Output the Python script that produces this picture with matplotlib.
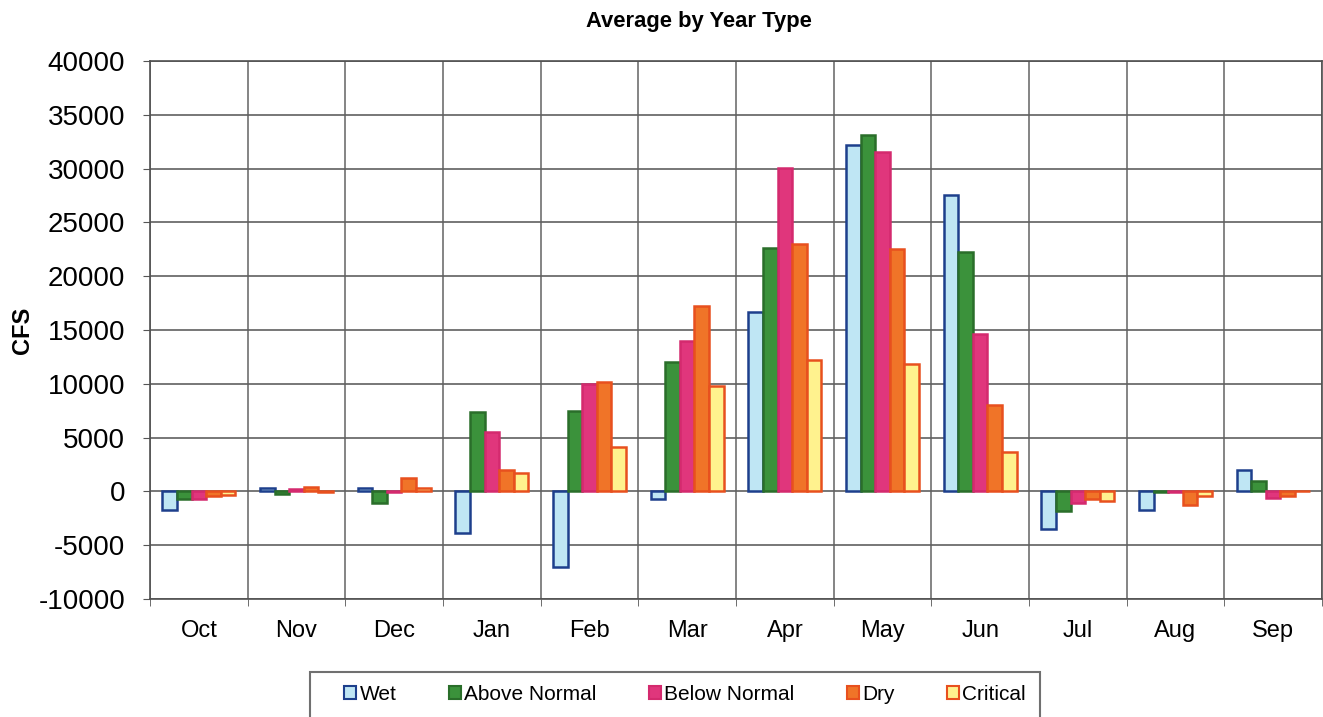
import numpy as np
import matplotlib.pyplot as plt
from matplotlib.patches import Patch, Rectangle

plt.rcParams['font.family'] = ['Liberation Sans', 'DejaVu Sans']
plt.rcParams['axes.unicode_minus'] = False

months = ['Oct', 'Nov', 'Dec', 'Jan', 'Feb', 'Mar', 'Apr', 'May', 'Jun', 'Jul', 'Aug', 'Sep']
series = ['Wet', 'Above Normal', 'Below Normal', 'Dry', 'Critical']

wet          = [-1700,  300,   300, -3900, -7000,  -700, 16700, 32200, 27500, -3500, -1700, 2000]
above_normal = [ -700, -200, -1100,  7400,  7500, 12050, 22600, 33100, 22250, -1800,   -50, 1000]
below_normal = [ -700,  250,  -100,  5500, 10000, 14000, 30100, 31500, 14650, -1100,  -100, -600]
dry          = [ -400,  400,  1200,  2000, 10200, 17200, 23000, 22550,  8050,  -700, -1300, -450]
critical     = [ -350, -100,   300,  1700,  4150,  9750, 12250, 11850,  3650,  -900,  -450,    0]

fills = ['#bfe6f4', '#3b923b', '#e0367c', '#f07428', '#fff28e']
edges = ['#1d3f8c', '#2a6e2a', '#d42a6e', '#e8501e', '#e8501e']

fig = plt.figure(figsize=(13.23, 7.17), dpi=100)
ax = fig.add_axes([150 / 1323, 118 / 717, 1172 / 1323, 538 / 717])

x = np.arange(len(months))
w = 0.15
for i, vals in enumerate([wet, above_normal, below_normal, dry, critical]):
    ax.bar(x + (i - 2) * w, vals, width=w, color=fills[i], edgecolor=edges[i],
           linewidth=1.8, label=series[i], zorder=3)

ax.set_xlim(-0.5, len(months) - 0.5)
ax.set_ylim(-10000, 40000)
ax.set_yticks(np.arange(-10000, 40001, 5000))
ax.tick_params(axis='y', labelsize=20, length=5, pad=13, color='#555555')
ax.set_xticks(x)
ax.set_xticklabels(months)
ax.tick_params(axis='x', labelsize=17, length=0, pad=15)
ax.set_xticks(np.arange(-0.5, len(months), 1), minor=True)
ax.tick_params(axis='x', which='minor', length=5, color='#555555')

ax.grid(axis='y', color='#606060', linewidth=1.2, zorder=0)
ax.grid(axis='x', which='minor', color='#707070', linewidth=1.2, zorder=0)
ax.grid(axis='x', which='major', visible=False)
for s in ax.spines.values():
    s.set_color('#505050')
    s.set_linewidth(1.2)

ax.set_ylabel('CFS', fontsize=17, fontweight='bold')
ax.yaxis.set_label_coords(-116 / 1172, 0.5)
fig.text(699 / 1323, 1 - 21 / 717, 'Average by Year Type', ha='center', va='center',
         fontsize=15.8, fontweight='bold')

# legend box runs off the bottom edge
fig.patches.append(Rectangle((310 / 1323, -0.02), 730 / 1323, 0.02 + 45 / 717,
                             transform=fig.transFigure, facecolor='white',
                             edgecolor='#707070', linewidth=1.5))
handles = [Patch(facecolor=fills[i], edgecolor=edges[i], linewidth=1.5) for i in range(5)]
fig.legend(handles, series, loc='center', bbox_to_anchor=(685 / 1323, 23 / 717),
           ncol=5, frameon=False, fontsize=15, handlelength=0.6, handleheight=0.6,
           handletextpad=0.15, columnspacing=2.5)

fig.savefig('out.png', dpi=100)
